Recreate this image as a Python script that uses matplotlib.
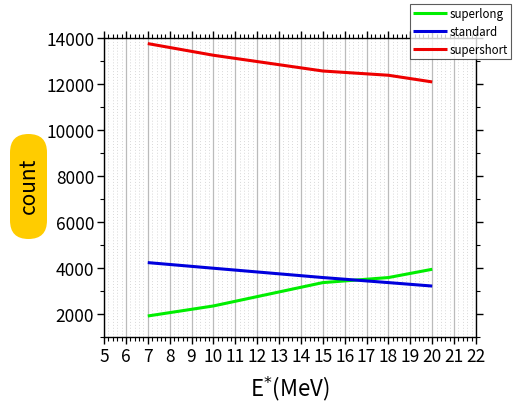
import matplotlib
matplotlib.use("Agg")
import matplotlib.pyplot as plt
from matplotlib.ticker import MultipleLocator
from matplotlib.patches import FancyBboxPatch
from matplotlib.transforms import IdentityTransform

plt.rcParams['font.family'] = ['Noto Sans CJK JP', 'DejaVu Sans']

energy = [7, 10, 15, 18, 20]
superlong = [1913, 2350, 3365, 3585, 3945]
standard = [4235, 3990, 3585, 3365, 3215]
supershort = [13757, 13250, 12565, 12380, 12090]
series_names = ["superlong", "standard", "supershort"]
series_colors = ["#00ee00", "#0000dd", "#ee0000"]

fig = plt.figure(figsize=(5.13, 4.06), dpi=100)
ax = fig.add_axes([104/513, 1-338/406, (476-104)/513, (338-39)/406])

for vals, name, col in zip([superlong, standard, supershort], series_names, series_colors):
    ax.plot(energy, vals, color=col, lw=2.2, label=name, solid_capstyle='butt')

ax.set_xlim(5, 22)
ax.set_ylim(1000, 14000)
ax.xaxis.set_major_locator(MultipleLocator(1))
ax.xaxis.set_minor_locator(MultipleLocator(0.2))
ax.yaxis.set_major_locator(MultipleLocator(2000))
ax.yaxis.set_minor_locator(MultipleLocator(1000))

ax.grid(True, which='major', axis='x', color='#bbbbbb', lw=0.9, ls='-')
ax.grid(True, which='minor', axis='x', color='#d8d8d8', lw=0.7, ls=(0, (1, 2)))
ax.set_axisbelow(True)

ax.tick_params(which='both', direction='out', top=True, right=True, labeltop=False, labelright=False)
ax.tick_params(which='major', length=5, width=1, labelsize=12.5, pad=2)
ax.tick_params(which='minor', length=3, width=0.8)
for s in ax.spines.values():
    s.set_linewidth(1.0)

ax.set_xlabel("E$^{*}$(MeV)", fontsize=16, labelpad=6)

box = FancyBboxPatch((10, 406-240), 37, 105, boxstyle='round,pad=0,rounding_size=18.5',
                     fc='#ffcc00', ec='none', transform=IdentityTransform(), figure=fig)
fig.patches.append(box)
fig.text(29/513, 1-186/406, "count", rotation=90, ha='center', va='center', fontsize=15)

leg = fig.legend(loc='upper left', bbox_to_anchor=(410/513, 1-5/406), fontsize=8.3,
                 frameon=True, fancybox=False, handlelength=2.9, handletextpad=0.25,
                 borderpad=0.3, labelspacing=0.4, borderaxespad=0)
leg.get_frame().set_edgecolor('#333333')
leg.get_frame().set_linewidth(0.8)
for line in leg.get_lines():
    line.set_linewidth(2.2)

fig.savefig("out.png", dpi=100)
